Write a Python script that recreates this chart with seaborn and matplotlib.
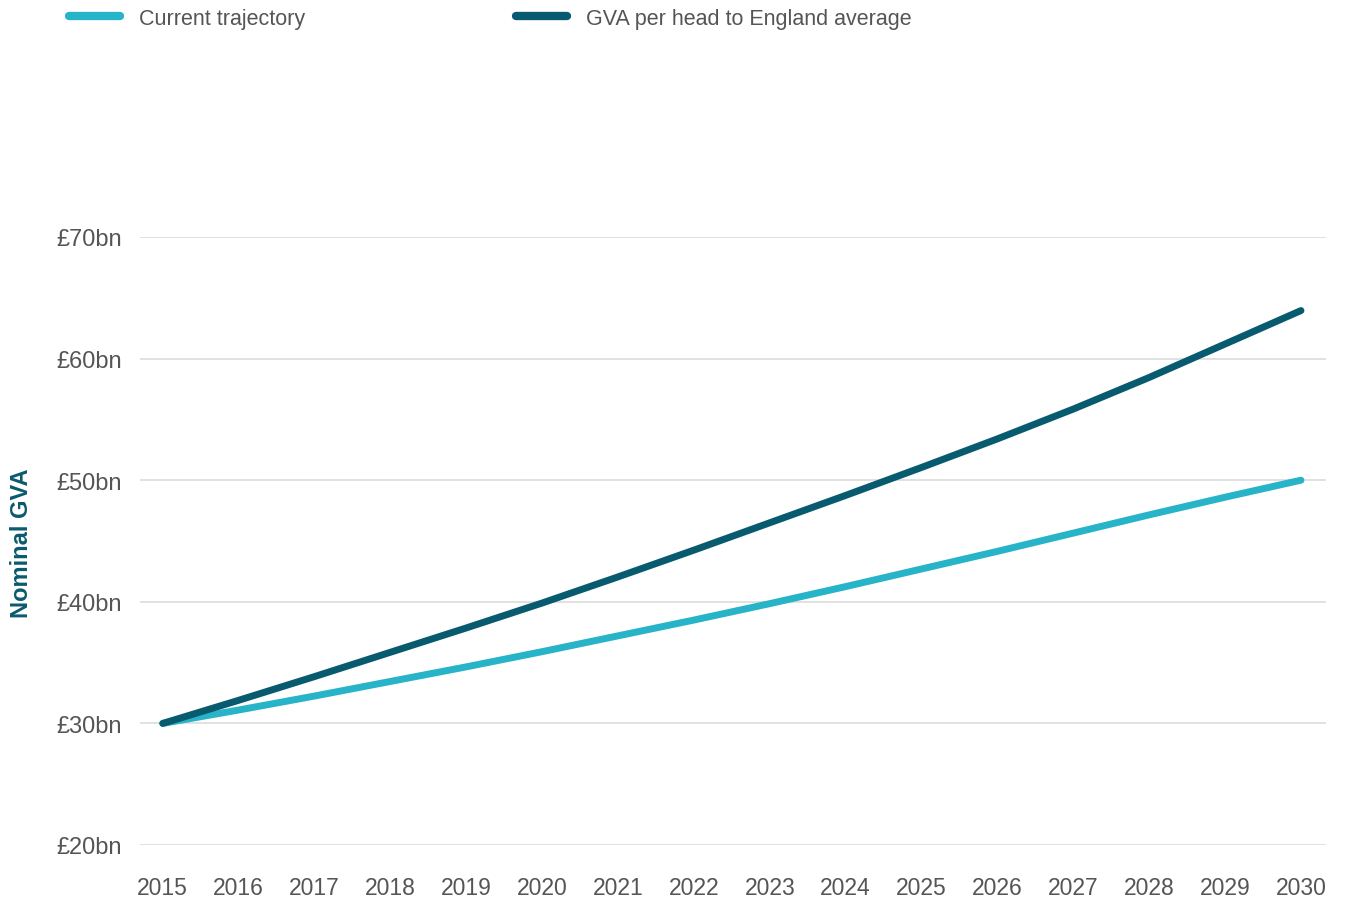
import matplotlib
matplotlib.use("Agg")
import matplotlib.pyplot as plt
import seaborn as sns
import pandas as pd

years = list(range(2015, 2031))
current_trajectory = [30.0, 31.1, 32.25, 33.45, 34.65, 35.9, 37.2, 38.5, 39.85,
                      41.25, 42.7, 44.15, 45.65, 47.15, 48.6, 50.0]
england_average = [30.0, 31.9, 33.85, 35.85, 37.85, 39.9, 42.05, 44.25, 46.5,
                   48.75, 51.05, 53.4, 55.85, 58.45, 61.2, 63.95]
series_names = ["Current trajectory", "GVA per head to England average"]
y_ticks = [20, 30, 40, 50, 60, 70]
y_tick_labels = ["£20bn", "£30bn", "£40bn", "£50bn", "£60bn", "£70bn"]
y_label = "Nominal GVA"

df = pd.DataFrame({
    "year": years * 2,
    "value": current_trajectory + england_average,
    "series": [series_names[0]] * len(years) + [series_names[1]] * len(years),
})

sns.set_theme(style="white")
plt.rcParams["font.family"] = ["Liberation Sans", "DejaVu Sans"]

W, H = 1349, 904
fig = plt.figure(figsize=(W / 100, H / 100), dpi=100)
ax = fig.add_axes([140 / W, (H - 846) / H, (1326 - 140) / W, (846 - 238) / H])

palette = {series_names[0]: "#27b3c8", series_names[1]: "#085a6e"}
sns.lineplot(data=df, x="year", y="value", hue="series", palette=palette,
             linewidth=5.0, ax=ax, legend=True)
for line in ax.get_lines():
    line.set_solid_capstyle("round")
    line.set_solid_joinstyle("round")
    line.set_clip_on(False)

ax.set_xlim(2014.70, 2030.33)
ax.set_ylim(20, 70)
ax.set_yticks(y_ticks)
ax.set_yticklabels(y_tick_labels)
ax.set_xticks(years)
ax.set_xticklabels([str(y) for y in years])
ax.tick_params(axis="y", length=0, pad=13, labelsize=17, labelcolor="#555555")
ax.tick_params(axis="x", length=0, pad=22, labelsize=16.5, labelcolor="#555555")
ax.grid(axis="y", color="#d9d9d9", linewidth=1.1)
ax.grid(axis="x", visible=False)
for s in ax.spines.values():
    s.set_visible(False)
ax.set_xlabel("")
ax.set_ylabel("")
fig.text(22 / W, (H - 543) / H, y_label, rotation=90, ha="center", va="center",
         fontsize=17, fontweight="bold", color="#0a5a6e")

handles, labels = ax.get_legend_handles_labels()
ax.get_legend().remove()
leg = fig.legend(handles, labels, loc="upper left",
                 bbox_to_anchor=(58 / W, 1.0 + 2 / H),
                 ncol=2, frameon=False, fontsize=15.5, handlelength=2.4,
                 handletextpad=0.85, columnspacing=9.8, labelcolor="#555555",
                 borderaxespad=0.1)
for lh in leg.get_lines():
    lh.set_linewidth(6)
    lh.set_solid_capstyle("round")

fig.savefig("out.png", dpi=100)
